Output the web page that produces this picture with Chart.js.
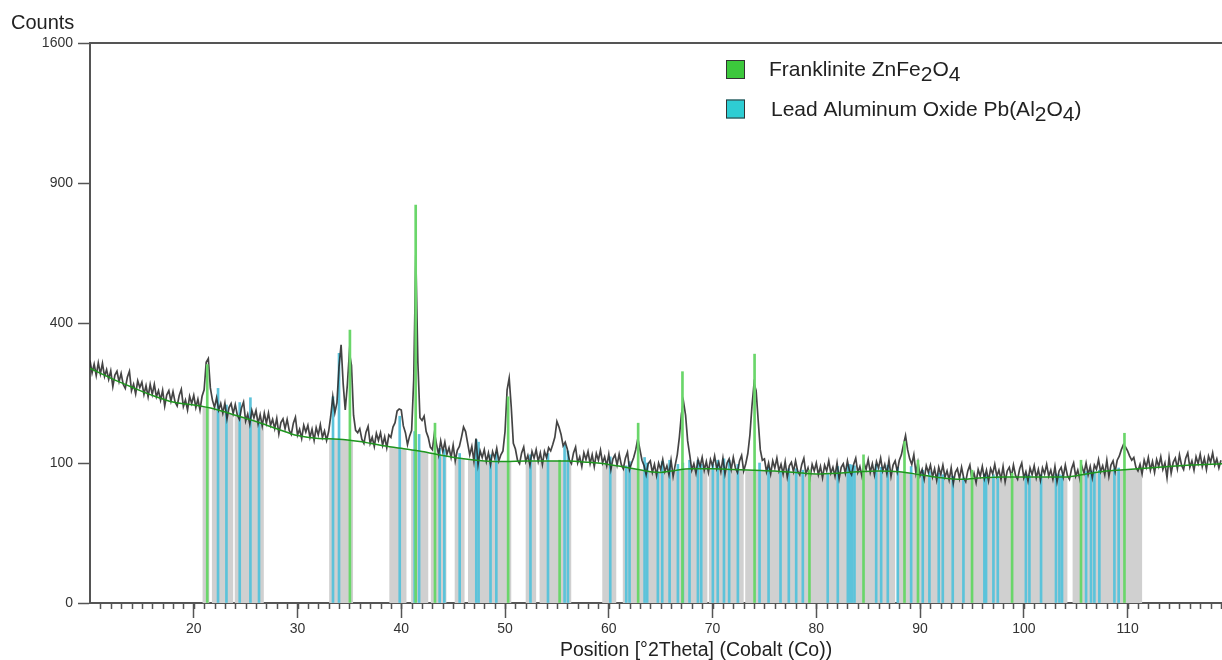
<!DOCTYPE html>
<html lang="en">
<head>
    <meta charset="UTF-8">
    <title>XRD pattern</title>
    <script src="https://cdn.jsdelivr.net/npm/chart.js"></script>
    <style>
        body { margin: 0; background: #fff; }
        #box { width: 1222px; height: 660px; }
    </style>
</head>
<body>
    <div id="box"><canvas id="grafico"></canvas></div>

    <script>
        // measured pattern, one value every 0.2 deg starting at 10 deg
        const obsStart = 10
        const obsStep = 0.2
        const obsCounts = [
            300, 270, 291, 264, 294,  268, 293, 262, 278, 255,  275, 239, 265, 274, 250,  269, 244, 235, 260, 274,
            230, 244, 223, 252, 237,  249, 222, 241, 217, 244,  222, 244, 217, 230, 210,  231, 198, 221, 230, 208,
            228, 206, 198, 220, 233,  197, 210, 190, 218, 203,
            220, 195, 212, 190, 218,  232, 296, 305, 236, 210,  195, 215, 190, 203, 184,  204, 173, 195, 203, 183,
            201, 180, 172, 194, 206,  169, 182, 163, 189, 175,  189, 164, 181, 160, 184,  165, 184, 161, 172, 155,
            174, 146, 166, 173, 155,  172, 152, 145, 165, 176,
            144, 154, 138, 161, 149,  161, 140, 154, 135, 157,  144, 162, 140, 151, 135,  150, 178, 217, 185, 205,
            285, 340, 245, 190, 242,  320, 288, 180, 152, 148,  155, 137, 130, 149, 159,  130, 140, 125, 147, 135,
            148, 127, 141, 123, 144,  140, 158, 166, 188, 192,
            190, 160, 148, 128, 142,  152, 255, 618, 295, 175,  170, 178, 150, 140, 124,  120, 148, 128, 112, 134,
            117, 132, 113, 123, 108,  127, 103, 119, 125, 140,  158, 150, 130, 112, 125,  103, 138,  98, 118, 108,
            120, 102, 115,  98, 117,  107, 122, 103, 112, 118,
            150, 232, 258, 196, 130,  121, 104,  99, 115, 124,  102, 111,  97, 117, 107,  120, 102, 115,  98, 117,
            108, 123, 118, 128, 140,  168, 158, 145, 126, 132,  121, 104,  99, 115, 124,  100, 109,  95, 115, 105,
            117,  99, 112,  95, 114,  104, 119, 100, 109,  96,
            113,  91, 106, 112,  97,  113,  98,  92, 107, 116,   91, 100, 108, 120, 138,  120, 104,  96,  84,  99,
            103,  87,  98,  83, 100,   91, 105,  88,  96,  84,  104,  82,  97, 112, 140,  182, 207, 180, 134, 112,
             90,  99,  86, 105,  95,  108,  90, 102,  87, 105,
             96, 110,  92, 101,  88,  107,  85, 100, 106,  91,  108,  93,  87, 103, 111,   89,  99, 114, 144, 198,
            246, 230, 170, 120, 104,  106,  88, 100,  85, 103,   93, 107,  89,  98,  85,  102,  81,  96, 101,  88,
            103,  89,  84,  98, 107,   85,  93,  80,  98,  89,
            100,  84,  95,  80,  97,   89, 103,  86,  94,  82,  100,  79,  94,  99,  86,  103,  89,  84,  98, 107,
             87,  95,  82, 100,  91,  105,  87,  99,  84, 102,   93, 107,  89,  98,  85,  104,  82,  97, 103,  88,
            104, 112, 128, 143, 120,  106,  98, 112,  86, 101,
             83,  91,  78,  96,  87,   97,  81,  92,  77,  94,   84,  97,  81,  89,  77,   93,  73,  87,  92,  79,
             94,  80,  75,  89,  97,   78,  86,  74,  91,  82,   95,  79,  90,  76,  92,   85,  98,  82,  90,  78,
             95,  75,  89,  94,  81,   97,  83,  78,  92, 100,
             80,  88,  76,  93,  84,   96,  80,  91,  77,  93,   85,  98,  82,  90,  78,   95,  75,  89,  94,  81,
             97,  83,  78,  92, 100,   82,  90,  78,  95,  86,  100,  84,  95,  80,  97,   91, 105,  88,  96,  84,
            104,  82,  97, 103,  88,  104, 110, 120, 128, 124,
            118, 110, 104, 108,  94,   89,  98,  85, 104,  94,  108,  90, 102,  87, 105,   95, 109,  91, 100,  80,
            108,  86, 101, 107,  92,  112,  97,  91, 107, 115,   94, 103,  90, 109,  99,  113,  95, 107,  91, 110,
            101, 115,  97, 106,  93,  104
        ]

        // fitted background (green line)
        const bgPos = [10, 12, 14, 16, 18, 20, 22, 24, 26, 28, 30, 32, 34, 36, 38, 40, 42, 44, 46, 48, 50, 52, 54, 56, 58,
            60, 62, 64, 65, 66, 68, 70, 72, 74, 76, 78, 80, 82, 84, 86, 88, 90, 92, 94, 96, 98, 100, 102, 104, 106, 108,
            110, 112, 114, 116, 119.1]
        const bgCounts = [281, 258, 238, 220, 206, 200, 192, 180, 168, 155, 143, 138, 137, 133, 127, 122, 117, 111, 106, 103, 102, 103, 103, 103, 101,
            98, 93, 88, 87, 89, 92, 92, 91, 90, 89, 87, 85, 86, 88, 89, 88, 84, 80, 78, 80, 81, 81, 81, 81, 85, 89,
            91, 93, 95, 97, 99]

        // Franklinite ZnFe2O4 reference lines
        const frankPos = [21.3, 35.05, 41.39, 43.25, 50.3, 55.26, 62.83, 67.1, 74.05, 79.34, 84.55, 88.5, 89.8, 95.01, 98.87, 105.51, 109.7]
        const frankCounts = [290, 380, 808, 165, 217, 104, 165, 273, 316, 90, 112, 133, 104, 90, 86, 104, 147]

        // Lead Aluminum Oxide Pb(Al2O4) reference lines
        const leadPos = [22.34, 23.15, 24.43, 25.46, 26.29, 33.42, 34.0, 39.85, 41.29, 41.72, 43.7, 44.15, 45.63, 47.23, 47.45,
            48.6, 49.16, 52.45, 54.14, 55.74, 56.06, 60.14, 61.68, 62.0, 63.45, 63.7, 64.73, 65.15, 65.86, 66.66,
            67.14, 67.78, 68.59, 68.91, 70.03, 70.5, 71.1, 71.6, 72.44, 74.53, 75.4, 76.55, 77.35, 78.06, 78.7, 81.1,
            82.07, 83.04, 83.25, 83.45, 83.68, 85.77, 86.25, 86.89, 87.85, 89.14, 90.26, 90.9, 91.8, 92.19, 93.15,
            94.18, 96.2, 96.36, 97.07, 97.49, 100.2, 100.54, 101.66, 103.1, 103.43, 103.68, 106.0, 106.48, 106.8,
            107.28, 108.73, 109.14]
        const leadCounts = [235, 200, 205, 215, 165, 217, 318, 178, 150, 145, 122, 120, 114, 136, 132,
            112, 116, 112, 114, 127, 118, 109, 96, 102, 108, 100, 88, 102, 104, 98,
            100, 104, 104, 98, 98, 104, 106, 104, 98, 100, 94, 88, 92, 92, 90, 86,
            95, 96, 98, 97, 96, 98, 94, 97, 94, 95, 90, 88, 86, 84, 82,
            80, 85, 83, 84, 82, 84, 83, 84, 85, 84, 83, 88, 89, 88,
            90, 92, 93]

        // grey bands under the background
        const greyFrom = [20.85, 21.75, 23.95, 33.05, 38.85, 40.95, 42.85, 45.15, 46.43, 51.99, 53.33, 59.37, 61.35, 69.65, 73.15, 87.8, 104.7]
        const greyTo = [21.5, 23.8, 26.75, 35.35, 40.5, 42.6, 44.35, 46.1, 50.6, 53.0, 56.38, 60.72, 69.5, 73.0, 87.6, 104.2, 111.4]

        const yTicks = [0, 100, 400, 900, 1600]
        const xTicks = [20, 30, 40, 50, 60, 70, 80, 90, 100, 110]
        const phases = ['Franklinite ZnFe_2O_4', 'Lead Aluminum Oxide Pb(Al_2O_4)']
        const phaseColors = ['#3cc83c', '#2ecdd3']

        const fonte = "'Liberation Sans', Arial, sans-serif"
        const sq = v => Math.sqrt(v)

        // text with subscript digits written as _2
        const textoQuimico = (ctx, texto, x, y) => {
            texto.split(/_(\d)/).forEach((parte, i) => {
                if (!parte) return
                ctx.fillText(parte, x, i % 2 ? y + 5 : y)
                x += ctx.measureText(parte).width
            })
        }

        const extras = {
            id: 'extras',
            beforeDatasetsDraw(chart) {
                const { ctx, chartArea: a, scales: { x, y } } = chart
                ctx.save()
                ctx.beginPath()
                ctx.rect(a.left, a.top, a.width, a.height)
                ctx.clip()
                ctx.beginPath()
                ctx.moveTo(x.getPixelForValue(bgPos[0]), y.getPixelForValue(0))
                bgPos.forEach((p, i) => ctx.lineTo(x.getPixelForValue(p), y.getPixelForValue(sq(bgCounts[i]))))
                ctx.lineTo(x.getPixelForValue(bgPos[bgPos.length - 1]), y.getPixelForValue(0))
                ctx.closePath()
                ctx.clip()
                ctx.fillStyle = '#d0d0d0'
                greyFrom.forEach((f, i) => {
                    const x0 = x.getPixelForValue(f)
                    const x1 = x.getPixelForValue(greyTo[i])
                    ctx.fillRect(x0, a.top, x1 - x0, a.height)
                })
                ctx.restore()
            },
            afterDraw(chart) {
                const { ctx, chartArea: a, scales: { x } } = chart
                ctx.save()
                // minor ticks every degree
                ctx.strokeStyle = '#555'
                ctx.lineWidth = 1.5
                ctx.beginPath()
                for (let v = Math.ceil(x.min) + 1; v <= x.max; v++) {
                    const px = Math.round(x.getPixelForValue(v)) + 0.5
                    ctx.moveTo(px, a.bottom)
                    ctx.lineTo(px, a.bottom + 6)
                }
                ctx.stroke()
                // top frame line
                ctx.lineWidth = 2
                ctx.beginPath()
                ctx.moveTo(a.left, a.top)
                ctx.lineTo(a.right, a.top)
                ctx.stroke()

                ctx.fillStyle = '#222'
                ctx.textBaseline = 'alphabetic'
                ctx.font = '20px ' + fonte
                ctx.fillText('Counts', 11, 29)
                ctx.font = '19.5px ' + fonte
                ctx.textAlign = 'center'
                ctx.fillText('Position [°2Theta] (Cobalt (Co))', 696, 656)
                ctx.textAlign = 'left'

                // legend
                ctx.font = '21px ' + fonte
                phases.forEach((nome, i) => {
                    const top = 60 + i * 39.5
                    ctx.fillStyle = phaseColors[i]
                    ctx.fillRect(726, top, 19, 19)
                    ctx.strokeStyle = '#333'
                    ctx.lineWidth = 1
                    ctx.strokeRect(726.5, top + 0.5, 18, 18)
                    ctx.fillStyle = '#222'
                    textoQuimico(ctx, nome, 769 + i * 2, top + 16)
                })
                ctx.restore()
            }
        }

        const ctx = document.getElementById('grafico')

        let grafico = new Chart(ctx, {
            type: 'line',
            data: {
                datasets: [
                    {
                        label: 'background',
                        data: bgPos.map((p, i) => ({ x: p, y: sq(bgCounts[i]) })),
                        borderColor: '#1e961e',
                        borderWidth: 1.5,
                        pointRadius: 0,
                        cubicInterpolationMode: 'monotone',
                        order: 1
                    },
                    {
                        type: 'bar',
                        label: 'Franklinite',
                        data: frankPos.map((p, i) => ({ x: p, y: sq(frankCounts[i]) })),
                        backgroundColor: '#6ad66a',
                        barThickness: 2,
                        grouped: false,
                        order: 2
                    },
                    {
                        label: 'pattern',
                        data: obsCounts.map((c, i) => ({ x: obsStart + i * obsStep, y: sq(c) })),
                        borderColor: 'rgba(35,35,35,0.85)',
                        borderWidth: 1.7,
                        pointRadius: 0,
                        order: 3
                    },
                    {
                        type: 'bar',
                        label: 'Lead Aluminum Oxide',
                        data: leadPos.map((p, i) => ({ x: p, y: sq(leadCounts[i]) })),
                        backgroundColor: '#5cc3da',
                        barThickness: 2,
                        grouped: false,
                        order: 4
                    }
                ]
            },
            options: {
                responsive: true,
                maintainAspectRatio: false,
                animation: false,
                layout: { padding: { top: 43, left: 0, right: 0, bottom: 0 } },
                plugins: {
                    legend: { display: false },
                    tooltip: { enabled: false }
                },
                scales: {
                    x: {
                        type: 'linear',
                        min: 10,
                        max: 119.1,
                        offset: false,
                        grid: { offset: false, drawOnChartArea: false, tickLength: 15, tickColor: '#555', tickWidth: 1.5 },
                        border: { color: '#555', width: 2 },
                        ticks: { padding: 3, color: '#333', font: { size: 14, family: fonte }, maxRotation: 0, autoSkip: false },
                        afterBuildTicks: s => { s.ticks = xTicks.map(v => ({ value: v })) },
                        afterFit: s => { s.height = 57 }
                    },
                    y: {
                        type: 'linear',
                        min: 0,
                        max: sq(yTicks[yTicks.length - 1]),
                        grid: { drawOnChartArea: false, tickLength: 12, tickColor: '#555', tickWidth: 1.5 },
                        border: { color: '#555', width: 2 },
                        ticks: { padding: 5, color: '#333', font: { size: 14, family: fonte }, callback: v => Math.round(v * v) },
                        afterBuildTicks: s => { s.ticks = yTicks.map(v => ({ value: sq(v) })) },
                        afterFit: s => { s.width = 90 }
                    }
                }
            },
            plugins: [extras]
        });
    </script>
</body>
</html>
